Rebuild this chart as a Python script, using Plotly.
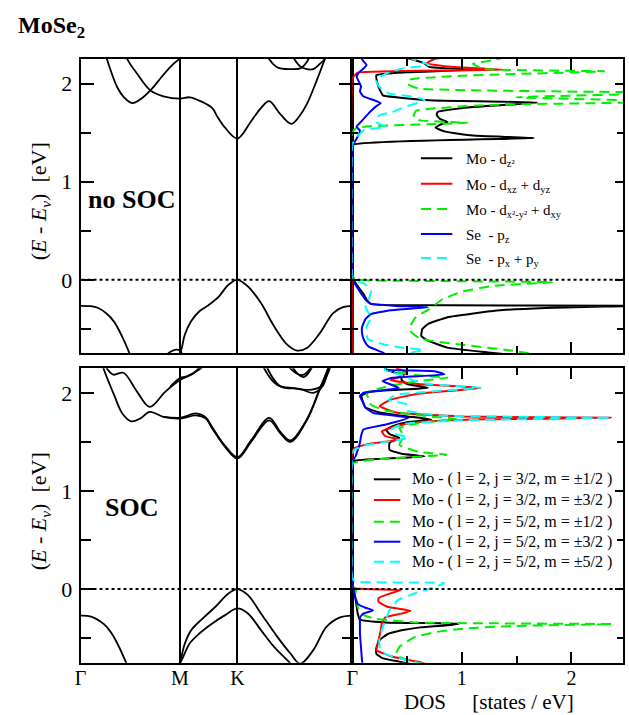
import plotly.graph_objects as go

# ---------------- k-path ----------------
K_TICKS = [0.0, 1.0, 1.577, 2.732]
K_LABELS = ['Γ', 'M', 'K', 'Γ']
DOS_TICKS = [1, 2]
DOS_LABELS = ['1', '2']
E_TICKS = [0, 1, 2]
E_LABELS = ['0', '1', '2']

# ---------------- bands: no SOC ----------------
NS_V1_K = [0.0, 0.099, 0.172, 0.258, 0.338, 0.417, 0.487, 0.556]
NS_V1_E = [-0.264, -0.268, -0.284, -0.34, -0.428, -0.575, -0.736, -0.92]
NS_V2_K = [0.94, 1.0, 1.049, 1.113, 1.195, 1.292, 1.39, 1.487, 1.577, 1.683, 1.814, 1.946, 2.078, 2.177, 2.276, 2.408, 2.54, 2.639, 2.732]
NS_V2_E = [-0.80, -0.745, -0.557, -0.42, -0.32, -0.253, -0.17, -0.05, 0.0, -0.068, -0.236, -0.473, -0.659, -0.72, -0.693, -0.54, -0.338, -0.277, -0.264]
NS_V3_K = [0.83, 0.9, 0.96, 1.0, 1.04]
NS_V3_E = [-0.80, -0.735, -0.71, -0.72, -0.80]
NS_C1_K = [0.238, 0.265, 0.37, 0.437, 0.519, 0.603, 0.702, 0.785, 0.867, 0.934, 1.0, 1.03]
NS_C1_E = [2.35, 2.25, 1.96, 1.86, 1.80, 1.84, 1.93, 2.03, 2.13, 2.20, 2.26, 2.33]
NS_C2_K = [0.437, 0.47, 0.569, 0.702, 0.834, 1.0, 1.097, 1.207, 1.324, 1.373, 1.453, 1.577, 1.715, 1.814, 1.896, 2.011, 2.12, 2.209, 2.275, 2.374, 2.456, 2.505]
NS_C2_E = [2.40, 2.25, 2.10, 1.93, 1.87, 1.846, 1.86, 1.82, 1.75, 1.667, 1.55, 1.44, 1.616, 1.75, 1.82, 1.685, 1.59, 1.68, 1.79, 2.03, 2.25, 2.40]
NS_C3_K = [1.85, 1.896, 1.979, 2.11, 2.209, 2.275, 2.32]
NS_C3_E = [2.35, 2.25, 2.165, 2.147, 2.155, 2.22, 2.32]
NS_C4_K = [2.11, 2.149, 2.209, 2.275, 2.34, 2.406, 2.456, 2.49]
NS_C4_E = [2.33, 2.25, 2.175, 2.147, 2.147, 2.20, 2.25, 2.33]

# ---------------- bands: SOC ----------------
S_V1_K = [0.0, 0.106, 0.238, 0.305, 0.37, 0.454, 0.516]
S_V1_E = [-0.27, -0.28, -0.36, -0.44, -0.554, -0.74, -0.90]
S_V2_K = [0.96, 1.0, 1.049, 1.113, 1.227, 1.356, 1.487, 1.577, 1.683, 1.814, 1.979, 2.11, 2.209, 2.34, 2.472, 2.603, 2.732]
S_V2_E = [-0.85, -0.745, -0.554, -0.418, -0.30, -0.18, -0.044, 0.0, -0.061, -0.248, -0.487, -0.656, -0.76, -0.622, -0.385, -0.29, -0.27]
S_V3_K = [0.97, 1.0, 1.032, 1.097, 1.195, 1.324, 1.453, 1.577, 1.683, 1.814, 1.946, 2.078, 2.2]
S_V3_E = [-0.85, -0.76, -0.69, -0.554, -0.452, -0.35, -0.265, -0.197, -0.248, -0.418, -0.589, -0.724, -0.85]
S_C1_K = [0.2, 0.231, 0.338, 0.42, 0.509, 0.603, 0.695, 0.834, 1.0, 1.161, 1.259, 1.324, 1.453, 1.577, 1.715, 1.896, 2.011, 2.11, 2.275, 2.408, 2.49, 2.55]
S_C1_E = [2.35, 2.248, 1.976, 1.79, 1.71, 1.74, 1.806, 1.755, 1.738, 1.77, 1.738, 1.636, 1.449, 1.33, 1.5, 1.72, 1.585, 1.5, 1.72, 2.04, 2.25, 2.45]
S_C2_K = [0.834, 1.0, 1.161, 1.259, 1.324, 1.453, 1.577, 1.715, 1.896, 2.011, 2.11, 2.275, 2.408, 2.49, 2.55]
S_C2_E = [1.755, 1.745, 1.79, 1.75, 1.65, 1.46, 1.345, 1.515, 1.745, 1.60, 1.515, 1.73, 2.05, 2.25, 2.45]
S_C3_K = [0.22, 0.265, 0.33, 0.43, 0.569, 0.695, 0.851, 1.0, 1.129, 1.21, 1.26]
S_C3_E = [2.35, 2.248, 2.185, 2.205, 2.01, 1.857, 2.01, 2.13, 2.197, 2.25, 2.30]
S_C4_K = [0.9, 1.0, 1.08, 1.16, 1.22]
S_C4_E = [2.06, 2.15, 2.17, 2.22, 2.30]
S_C5_K = [1.80, 1.847, 1.979, 2.145, 2.275, 2.408, 2.507, 2.54]
S_C5_E = [2.40, 2.248, 2.08, 2.047, 2.03, 2.06, 2.248, 2.35]
S_C6_K = [1.84, 1.88, 2.011, 2.209, 2.34, 2.439, 2.49, 2.52]
S_C6_E = [2.40, 2.248, 2.065, 2.04, 2.0, 2.075, 2.248, 2.35]
S_C7_K = [2.08, 2.11, 2.226, 2.308, 2.34]
S_C7_E = [2.35, 2.248, 2.18, 2.248, 2.35]
S_C8_K = [2.11, 2.14, 2.24, 2.32, 2.35]
S_C8_E = [2.35, 2.248, 2.16, 2.248, 2.35]

# ---------------- DOS: no SOC ----------------
NS_DZ2_E = [-0.80, -0.74, -0.69, -0.62, -0.57, -0.50, -0.45, -0.38, -0.313, -0.286, -0.272, -0.264, -0.256, -0.245, -0.20, -0.14, -0.08, -0.03, 0.0, 0.05, 1.30, 1.377, 1.444, 1.47, 1.51, 1.55, 1.58, 1.608, 1.64, 1.68, 1.71, 1.76, 1.806, 1.83, 1.86, 1.88, 1.94, 2.0, 2.085, 2.115, 2.14, 2.17, 2.21, 2.26]
NS_DZ2_D = [1.8, 1.24, 0.87, 0.69, 0.63, 0.64, 0.69, 0.87, 1.32, 1.76, 2.3, 3.0, 0.3, 0.17, 0.13, 0.10, 0.06, 0.03, 0.01, 0.0, 0.0, 0.01, 1.66, 1.1, 0.85, 0.76, 0.80, 0.87, 0.80, 0.77, 0.78, 1.1, 1.69, 0.7, 0.4, 0.28, 0.25, 0.23, 0.22, 0.5, 1.1, 0.7, 0.65, 0.5]
NS_DXZ_E = [-0.80, 2.06, 2.11, 2.14, 2.17, 2.205, 2.25, 2.27]
NS_DXZ_D = [0.006, 0.006, 0.05, 1.37, 0.9, 0.68, 0.75, 0.9]
NS_DX2_E = [-0.80, -0.72, -0.66, -0.60, -0.52, -0.45, -0.38, -0.30, -0.20, -0.12, -0.06, -0.024, -0.012, 0.0, 0.03, 1.50, 1.55, 1.60, 1.625, 1.66, 1.72, 1.78, 1.815, 1.86, 1.905, 1.95, 2.0, 2.04, 2.08, 2.125, 2.15, 2.2, 2.24, 2.27]
NS_DX2_D = [1.9, 1.45, 1.0, 0.62, 0.53, 0.54, 0.58, 0.70, 0.82, 1.0, 1.3, 1.83, 0.8, 0.07, 0.0, 0.0, 0.04, 1.05, 0.62, 0.56, 0.58, 1.2, 3.0, 1.5, 3.0, 0.6, 0.5, 0.53, 1.0, 2.3, 1.2, 1.1, 1.3, 1.4]
NS_PZ_E = [-0.80, -0.74, -0.68, -0.62, -0.55, -0.48, -0.40, -0.35, -0.31, -0.28, -0.265, -0.245, -0.20, -0.12, -0.05, 0.0, 0.05, 1.35, 1.38, 1.42, 1.48, 1.52, 1.56, 1.60, 1.66, 1.72, 1.77, 1.80, 1.83, 1.87, 1.92, 1.97, 2.02, 2.07, 2.11, 2.15, 2.19, 2.23, 2.27]
NS_PZ_D = [0.35, 0.28, 0.15, 0.11, 0.09, 0.09, 0.12, 0.17, 0.35, 0.69, 0.4, 0.17, 0.12, 0.07, 0.03, 0.01, 0.0, 0.0, 0.01, 0.03, 0.06, 0.07, 0.04, 0.07, 0.12, 0.17, 0.22, 0.26, 0.2, 0.1, 0.07, 0.08, 0.06, 0.04, 0.06, 0.1, 0.13, 0.1, 0.08]
NS_PXY_E = [-0.80, -0.75, -0.715, -0.69, -0.66, -0.60, -0.48, -0.38, -0.28, -0.20, -0.11, -0.04, 0.0, 0.03, 1.38, 1.404, 1.46, 1.524, 1.558, 1.608, 1.677, 1.71, 1.77, 1.83, 1.864, 1.898, 1.966, 2.034, 2.102, 2.15, 2.19, 2.23, 2.27]
NS_PXY_D = [0.4, 0.5, 0.65, 0.45, 0.3, 0.14, 0.13, 0.17, 0.12, 0.15, 0.17, 0.11, 0.01, 0.0, 0.0, 0.01, 0.05, 0.1, 0.307, 0.217, 0.247, 0.366, 0.5, 0.664, 0.575, 0.336, 0.247, 0.217, 0.307, 0.45, 0.7, 0.6, 0.5]

# ---------------- DOS: SOC ----------------
S_J32A_E = [-0.80, -0.74, -0.70, -0.66, -0.60, -0.52, -0.46, -0.42, -0.39, -0.365, -0.352, -0.34, -0.31, -0.25, -0.18, -0.10, -0.04, 0.0, 0.05, 1.25, 1.29, 1.31, 1.352, 1.38, 1.42, 1.49, 1.54, 1.58, 1.625, 1.66, 1.70, 1.728, 1.76, 1.80, 1.85, 1.90, 1.97, 2.01, 2.051, 2.09, 2.13, 2.18, 2.24, 2.27]
S_J32A_D = [0.7, 0.43, 0.27, 0.22, 0.22, 0.25, 0.32, 0.45, 0.62, 0.9, 0.98, 0.3, 0.07, 0.05, 0.04, 0.03, 0.02, 0.01, 0.0, 0.0, 0.005, 0.03, 0.66, 0.45, 0.34, 0.34, 0.43, 0.34, 0.31, 0.37, 0.5, 0.72, 0.5, 0.25, 0.12, 0.1, 0.085, 0.16, 0.69, 0.5, 0.45, 0.45, 0.3, 0.3]
S_J32B_E = [-0.80, -0.74, -0.69, -0.62, -0.52, -0.42, -0.35, -0.29, -0.25, -0.22, -0.18, -0.13, -0.09, -0.05, -0.01, 0.01, 0.05, 1.40, 1.436, 1.48, 1.523, 1.56, 1.607, 1.66, 1.70, 1.73, 1.745, 1.76, 1.80, 1.864, 1.93, 1.99, 2.05, 2.09, 2.13, 2.17, 2.21, 2.25]
S_J32B_D = [0.8, 0.6, 0.37, 0.22, 0.24, 0.26, 0.27, 0.3, 0.45, 0.53, 0.32, 0.24, 0.24, 0.33, 0.44, 0.02, 0.0, 0.0, 0.02, 0.15, 0.43, 0.3, 0.27, 0.4, 0.6, 1.2, 2.36, 1.0, 0.4, 0.25, 0.35, 0.6, 1.17, 0.6, 0.35, 0.45, 0.5, 0.4]
S_J52A_E = [-0.80, -0.743, -0.674, -0.589, -0.487, -0.44, -0.402, -0.375, -0.357, -0.34, -0.30, -0.25, -0.18, -0.10, -0.03, 0.0, 0.02, 0.05, 1.25, 1.285, 1.32, 1.37, 1.40, 1.47, 1.54, 1.60, 1.64, 1.69, 1.734, 1.76, 1.82, 1.88, 1.94, 2.0, 2.06, 2.12, 2.153, 2.18, 2.23, 2.26]
S_J52A_D = [0.8, 0.575, 0.40, 0.43, 0.575, 0.75, 1.02, 1.5, 2.37, 0.6, 0.2, 0.08, 0.05, 0.04, 0.03, 0.04, 0.01, 0.0, 0.0, 0.01, 0.2, 0.86, 0.6, 0.43, 0.46, 0.45, 0.43, 0.6, 0.96, 0.7, 0.3, 0.17, 0.15, 0.13, 0.3, 0.6, 0.87, 0.6, 0.32, 0.3]
S_J52B_E = [-0.80, -0.74, -0.60, -0.45, -0.35, -0.29, -0.25, -0.215, -0.19, -0.15, -0.10, -0.05, 0.0, 0.05, 1.30, 1.352, 1.42, 1.489, 1.56, 1.625, 1.677, 1.745, 1.796, 1.85, 1.897, 1.966, 2.0, 2.051, 2.119, 2.153, 2.187, 2.221, 2.238, 2.26]
S_J52B_D = [0.1, 0.09, 0.08, 0.07, 0.07, 0.07, 0.1, 0.19, 0.12, 0.05, 0.03, 0.02, 0.01, 0.0, 0.0, 0.03, 0.05, 0.07, 0.08, 0.1, 0.307, 0.515, 0.19, 0.12, 0.1, 0.07, 0.1, 0.426, 0.277, 0.366, 0.842, 0.75, 0.31, 0.3]
S_J52C_E = [-0.80, -0.74, -0.66, -0.59, -0.50, -0.385, -0.30, -0.215, -0.11, -0.04, 0.02, 0.06, 0.08, 0.12, 1.38, 1.42, 1.46, 1.50, 1.54, 1.58, 1.62, 1.68, 1.72, 1.745, 1.77, 1.82, 1.88, 1.93, 1.98, 2.02, 2.05, 2.09, 2.13, 2.18, 2.23, 2.26]
S_J52C_D = [0.8, 0.55, 0.3, 0.25, 0.25, 0.28, 0.31, 0.34, 0.42, 0.58, 0.75, 0.84, 0.02, 0.0, 0.0, 0.02, 0.1, 0.3, 0.51, 0.4, 0.35, 0.45, 1.0, 2.36, 0.8, 0.5, 0.5, 0.33, 0.4, 0.8, 1.17, 0.7, 0.55, 0.45, 0.3, 0.3]

NS_LABELS = ['Mo - d<sub>z²</sub>', 'Mo - d<sub>xz</sub> + d<sub>yz</sub>',
             'Mo - d<sub>x²-y²</sub> + d<sub>xy</sub>', 'Se  - p<sub>z</sub>',
             'Se  - p<sub>x</sub> + p<sub>y</sub>']
S_LABELS = ['Mo - ( l = 2, j = 3/2, m = ±1/2 )', 'Mo - ( l = 2, j = 3/2, m = ±3/2 )',
            'Mo - ( l = 2, j = 5/2, m = ±1/2 )', 'Mo - ( l = 2, j = 5/2, m = ±3/2 )',
            'Mo - ( l = 2, j = 5/2, m = ±5/2 )']

# ---------------- styling ----------------
W, H = 629, 715
def fx(px): return px / W
def fy(py): return 1 - py / H

FONT = 'Liberation Serif'
COLORS = ['black', '#ff0000', '#00ee00', '#0000ff', '#00ffff']
DASHES = ['solid', 'solid', '10px,6px', 'solid', '10px,6px']

NS_BANDS = [(NS_V1_K, NS_V1_E), (NS_V2_K, NS_V2_E), (NS_V3_K, NS_V3_E), (NS_C1_K, NS_C1_E),
            (NS_C2_K, NS_C2_E), (NS_C3_K, NS_C3_E), (NS_C4_K, NS_C4_E)]
S_BANDS = [(S_V1_K, S_V1_E), (S_V2_K, S_V2_E), (S_V3_K, S_V3_E), (S_C1_K, S_C1_E), (S_C2_K, S_C2_E),
           (S_C3_K, S_C3_E), (S_C4_K, S_C4_E), (S_C5_K, S_C5_E), (S_C6_K, S_C6_E),
           (S_C7_K, S_C7_E), (S_C8_K, S_C8_E)]
NS_DOS = [(NS_DZ2_E, NS_DZ2_D), (NS_DXZ_E, NS_DXZ_D), (NS_DX2_E, NS_DX2_D), (NS_PZ_E, NS_PZ_D), (NS_PXY_E, NS_PXY_D)]
S_DOS = [(S_J32A_E, S_J32A_D), (S_J32B_E, S_J32B_D), (S_J52A_E, S_J52A_D), (S_J52B_E, S_J52B_D), (S_J52C_E, S_J52C_D)]

fig = go.Figure()

for bands, xa, ya in [(NS_BANDS, 'x', 'y'), (S_BANDS, 'x3', 'y3')]:
    for k, e in bands:
        fig.add_trace(go.Scatter(x=k, y=e, mode='lines', xaxis=xa, yaxis=ya, showlegend=False,
                                 line=dict(color='black', width=1.8, shape='spline', smoothing=1.0)))

for dos, xa, ya in [(NS_DOS, 'x2', 'y2'), (S_DOS, 'x4', 'y4')]:
    for i, (e, d) in enumerate(dos):
        fig.add_trace(go.Scatter(x=d, y=e, mode='lines', xaxis=xa, yaxis=ya, showlegend=False,
                                 line=dict(color=COLORS[i], width=2, dash=DASHES[i],
                                           shape='spline', smoothing=0.4)))

BX = [fx(76), fx(353)]
DX = [fx(353), 1.0]
TY = [fy(353), fy(59)]
BY = [fy(662.7), fy(368.3)]
TYR = [-0.745, 2.25]
BYR = [-0.75, 2.25]
DXR = [0, 2.471]
tickfont = dict(family=FONT, size=22, color='black')
xtickfont = dict(family=FONT, size=20, color='black')

def band_x(domain, anchor, labels):
    return dict(domain=domain, anchor=anchor, range=[0, 2.732], showline=True, linewidth=2,
                linecolor='black', mirror=True, ticks='', tickmode='array', tickvals=K_TICKS,
                ticktext=K_LABELS, showticklabels=labels, showgrid=True, gridcolor='black',
                gridwidth=1.5, zeroline=False, tickfont=xtickfont, ticklabelstandoff=-4,
                fixedrange=True)

def band_y(domain, anchor, rng):
    return dict(domain=domain, anchor=anchor, range=rng, showline=True, linewidth=2, linecolor='black',
                mirror='ticks', ticks='inside', ticklen=13, tickwidth=2, tickcolor='black',
                tickmode='array', tickvals=E_TICKS, ticktext=E_LABELS, showgrid=False, zeroline=False,
                tickfont=tickfont, ticklabelstandoff=2,
                minor=dict(tickmode='array', tickvals=[-0.5, 0.5, 1.5], ticks='inside', ticklen=10,
                           tickwidth=2, tickcolor='black'))

def dos_x(domain, anchor, labels):
    return dict(domain=domain, anchor=anchor, range=DXR, showline=True, linewidth=2, linecolor='black',
                mirror='ticks', ticks='inside', ticklen=11, tickwidth=2, tickcolor='black',
                tickmode='array', tickvals=DOS_TICKS, ticktext=DOS_LABELS, showticklabels=labels,
                showgrid=False, zeroline=False, tickfont=xtickfont, ticklabelstandoff=-4,
                minor=dict(tickmode='array', tickvals=[0.5, 1.5], ticks='inside', ticklen=7,
                           tickwidth=2, tickcolor='black'))

def dos_y(domain, anchor, rng):
    return dict(domain=domain, anchor=anchor, range=rng, showline=True, linewidth=2, linecolor='black',
                mirror='ticks', ticks='inside', ticklen=8, tickwidth=2, tickcolor='black',
                tickmode='array', tickvals=E_TICKS, showticklabels=False, showgrid=False, zeroline=False,
                minor=dict(tickmode='array', tickvals=[-0.5, 0.5, 1.5], ticks='inside', ticklen=6,
                           tickwidth=2, tickcolor='black'))

shapes = []
for yref in ['y', 'y3']:
    shapes.append(dict(type='line', xref='paper', yref=yref, x0=fx(77), x1=1.0, y0=0, y1=0,
                       line=dict(color='black', width=2, dash='dot')))

def ann(text, px, py, size, xanchor='center', angle=0):
    return dict(text=text, x=fx(px), y=fy(py), xref='paper', yref='paper', xanchor=xanchor,
                yanchor='middle', textangle=angle, showarrow=False,
                font=dict(family=FONT, size=size, color='black'))

annotations = [
    ann('<b>MoSe<sub>2</sub></b>', 10, 27, 24, xanchor='left'),
    ann('<b>no SOC</b>', 128, 199, 26),
    ann('<b>SOC</b>', 127.5, 507, 26),
    ann('DOS     [states / eV]', 492, 701.5, 21),
]
for cy in [201, 511]:
    annotations.append(ann('(<i>E</i> - <i>E</i><sub><i>v</i></sub>)  [eV]', 35, cy, 22, angle=-90))

NS_ROWS = [158.3, 183.7, 209, 234, 258]
S_ROWS = [479.3, 500, 521.7, 541.7, 561.7]
for i, (lab, py) in enumerate(zip(NS_LABELS, NS_ROWS)):
    shapes.append(dict(type='line', xref='paper', yref='paper', x0=fx(423), x1=fx(455), y0=fy(py), y1=fy(py),
                       line=dict(color=COLORS[i], width=2, dash=DASHES[i])))
    annotations.append(ann(lab, 467, py + 2, 15, xanchor='left'))
for i, (lab, py) in enumerate(zip(S_LABELS, S_ROWS)):
    shapes.append(dict(type='line', xref='paper', yref='paper', x0=fx(375), x1=fx(402), y0=fy(py), y1=fy(py),
                       line=dict(color=COLORS[i], width=2, dash=DASHES[i])))
    annotations.append(ann(lab, 412, py, 16, xanchor='left'))

fig.update_layout(
    width=W, height=H, margin=dict(l=0, r=0, t=0, b=0),
    paper_bgcolor='white', plot_bgcolor='white', showlegend=False,
    xaxis=band_x(BX, 'y', False), yaxis=band_y(TY, 'x', TYR),
    xaxis2=dos_x(DX, 'y2', False), yaxis2=dos_y(TY, 'x2', TYR),
    xaxis3=band_x(BX, 'y3', True), yaxis3=band_y(BY, 'x3', BYR),
    xaxis4=dos_x(DX, 'y4', True), yaxis4=dos_y(BY, 'x4', BYR),
    shapes=shapes, annotations=annotations,
)

fig.write_html('out.html')
